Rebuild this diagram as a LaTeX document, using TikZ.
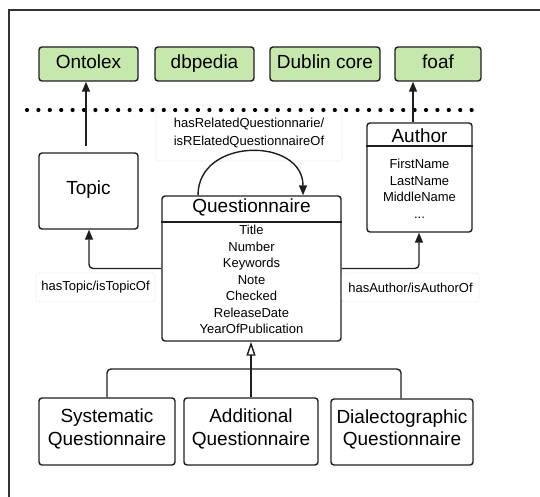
\documentclass[tikz,border=0pt]{standalone}
\usepackage{fontspec}
\setmainfont{Liberation Sans}
\usetikzlibrary{arrows.meta}
\definecolor{vocgreen}{RGB}{199,232,172}
\definecolor{edge}{RGB}{30,30,30}
\definecolor{framegray}{RGB}{50,50,50}
\tikzset{
  box/.style={draw=edge, line width=1.4pt, rounded corners=3pt, inner sep=0pt},
  vocab/.style={box, fill=vocgreen, minimum height=34pt,
    font=\fontsize{19}{22}\selectfont, text height=13.6pt, text depth=5pt},
  classbox/.style={box, align=center, font=\fontsize{19}{22.5}\selectfont},
  headtext/.style={font=\fontsize{19}{22}\selectfont, inner sep=0pt, anchor=base},
  attrtext/.style={font=\fontsize{13}{16.5}\selectfont, align=center, inner sep=0pt, anchor=north},
  edgelabel/.style={draw=gray!30, densely dotted, line width=0.6pt, rounded corners=3pt,
    inner sep=0pt, align=center, font=\fontsize{13}{18}\selectfont},
  link/.style={draw=edge, line width=1.4pt, -{Triangle[length=10pt,width=8pt]}},
  isa/.style={draw=edge, line width=1.4pt, -{Triangle[open,length=14pt,width=9pt,line width=1.4pt]}},
}
\begin{document}
\begin{tikzpicture}[x=1pt,y=-1pt]
\useasboundingbox (0,0) rectangle (540,497);
% page frame (top and left edges)
\draw[framegray, line width=1.2pt] (540,10) -- (9,10) -- (9,497);

% external vocabularies
\node[vocab, minimum width=99pt]  (ont)  at (88.5,64) {Ontolex};
\node[vocab, minimum width=99pt]  (dbp)  at (204.5,64) {dbpedia};
\node[vocab, minimum width=110pt] (dub)  at (325,64) {Dublin core};
\node[vocab, minimum width=86pt]  (foaf) at (438,64) {foaf};

% relation label behind the dotted separator
\node[edgelabel, minimum width=186pt, minimum height=56pt] (rellbl) at (249,133)
  {hasRelatedQuestionnarie/\\isRElatedQuestionnaireOf};

% separator between vocabularies and the model
\coordinate (sepL) at (27,110);
\coordinate (sepR) at (482,110);
\draw[black, line width=4.2pt, line cap=round, dash pattern=on 0pt off 11.4pt] (sepL) -- (sepR);

% Topic
\node[classbox, minimum width=99pt, minimum height=76pt, text height=13.6pt, text depth=6pt]
  (topic) at (88.5,191) {Topic};

% Author
\node[box, minimum width=105pt, minimum height=109pt] (author) at (419.5,177.5) {};
\draw[edge, line width=1.4pt] (author.west |- 0,146) -- (author.east |- 0,146);
\node[headtext] (authorhead) at (419.5,142.5) {Author};
\node[attrtext] (authorattr) at (419.5,159.2)
  {FirstName\\LastName\\MiddleName\\...};

% Questionnaire
\node[box, minimum width=179pt, minimum height=145pt] (quest) at (251.5,268.5) {};
\draw[edge, line width=1.4pt] (quest.west |- 0,222) -- (quest.east |- 0,222);
\node[headtext] (questhead) at (251.5,212) {Questionnaire};
\node[attrtext] (questattr) at (251.5,225.3)
  {Title\\Number\\Keywords\\Note\\Checked\\ReleaseDate\\YearOfPublication};

% subclasses
\node[classbox, minimum width=136pt, minimum height=67pt, text depth=9pt] (sys) at (107,431.5)
  {Systematic\\Questionnaire};
\node[classbox, minimum width=134pt, minimum height=67pt, text depth=9pt] (add) at (251,431.5)
  {Additional\\Questionnaire};
\node[classbox, minimum width=142pt, minimum height=66pt, text depth=9pt] (dia) at (402,432)
  {Dialectographic\\Questionnaire};

% relation labels
\node[edgelabel, minimum width=119pt, minimum height=29pt] (topiclbl) at (95.5,287.5)
  {hasTopic/isTopicOf};
\node[edgelabel, minimum width=137pt, minimum height=29pt] (authorlbl) at (410.5,287.5)
  {hasAuthor/isAuthorOf};

% links to vocabularies
\draw[link, shorten <=6pt] (topic.north -| 86,0) -- (ont.south -| 86,0);
\draw[link] (author.north -| 413,0) -- (foaf.south -| 413,0);

% object properties
\draw[link, rounded corners=4pt] (quest.west) -| (topic.south -| 89,0);
\draw[link, rounded corners=4pt] (quest.east) -| (author.south -| 419,0);
\draw[link] (quest.north -| 198,0) .. controls (198,137) and (303,137) .. (quest.north -| 303,0);

% generalisation
\coordinate (junc) at (251,369);
\draw[edge, line width=1.4pt, rounded corners=4pt] (sys.north) |- (junc) -| (dia.north -| 401,0);
\draw[isa] (add.north) -- (quest.south -| add.north);
\end{tikzpicture}
\end{document}
